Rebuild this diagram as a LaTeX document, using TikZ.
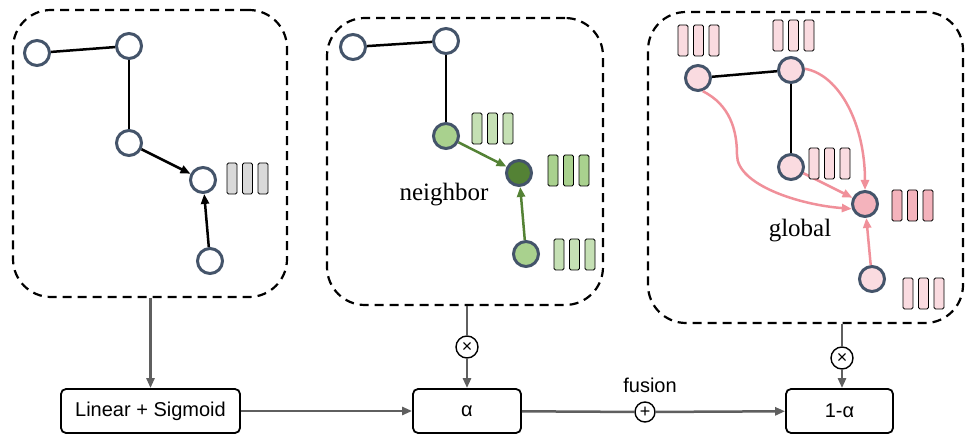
\documentclass[tikz,border=0pt]{standalone}
\usepackage{fontspec}
\setmainfont{Liberation Serif}
\setsansfont{Liberation Sans}
\usetikzlibrary{arrows.meta}
\definecolor{nodeline}{HTML}{44546A}
\definecolor{grayfill}{HTML}{D9D9D9}
\definecolor{lgreen}{HTML}{A9D18E}
\definecolor{llgreen}{HTML}{C5E0B4}
\definecolor{dgreen}{HTML}{548235}
\definecolor{lpink}{HTML}{FADBE0}
\definecolor{mpink}{HTML}{F4B3BC}
\definecolor{pinkline}{HTML}{F0909A}
\definecolor{flowgray}{HTML}{5F5F5F}
\newcommand\featbars[3]{%
  \foreach \k in {0,1,2} {\draw[featbar, fill=#3] ({#1+\k*15.5},#2) rectangle ++(10,31);}}
\begin{document}
\begin{tikzpicture}[x=1pt,y=-1pt,
  gnode/.style={circle, draw=nodeline, line width=3pt, minimum size=25pt, inner sep=0pt, fill=white},
  panel/.style={draw=black, line width=2.2pt, dash pattern=on 9pt off 6pt, rounded corners=38pt, inner sep=0pt},
  featbar/.style={draw=black, line width=0.9pt, rounded corners=1.5pt},
  plainedge/.style={draw=black, line width=2.5pt},
  blkarrow/.style={draw=black, line width=2.5pt, -{Triangle[length=10pt,width=8pt]}},
  grnarrow/.style={draw=dgreen, line width=2.5pt, -{Triangle[length=10pt,width=8pt]}},
  pnkarrow/.style={draw=pinkline, line width=2.5pt, -{Triangle[length=10pt,width=8pt]}},
  flowbox/.style={draw=black, line width=1.8pt, rounded corners=5pt, font=\sffamily\fontsize{20}{24}\selectfont, minimum height=44pt, inner sep=0pt},
  flowline/.style={draw=flowgray, line width=2.5pt},
  flowarrow/.style={draw=flowgray, line width=2.5pt, -{Triangle[length=10pt,width=8pt]}},
  opcirc/.style={circle, draw=black, line width=1.4pt, fill=white, inner sep=0pt, font=\sffamily\fontsize{18}{18}\selectfont},
  lbl/.style={font=\fontsize{25}{30}\selectfont}
]
\useasboundingbox (0,0) rectangle (966,438);

% panels
\node[panel, minimum width=274pt, minimum height=287pt] (p1) at (150,153.5) {};
\node[panel, minimum width=276pt, minimum height=287pt] (p2) at (465,161.5) {};
\node[panel, minimum width=315pt, minimum height=311pt] (p3) at (805.5,167.5) {};

% panel 1
\node[gnode] (a1) at (37,53) {};
\node[gnode] (b1) at (129,46) {};
\node[gnode] (c1) at (129,143) {};
\node[gnode] (d1) at (203,180) {};
\node[gnode] (e1) at (210,261) {};
\draw[plainedge] (a1) -- (b1);
\draw[plainedge] (b1) -- (c1);
\draw[blkarrow] (c1) -- (d1);
\draw[blkarrow] (e1) -- (d1);
\featbars{227}{163}{grayfill}

% panel 2
\node[gnode] (a2) at (353,47) {};
\node[gnode] (b2) at (446,41) {};
\node[gnode, fill=lgreen] (c2) at (446,136) {};
\node[gnode, fill=dgreen] (d2) at (519,173) {};
\node[gnode, fill=lgreen] (e2) at (526,254) {};
\draw[plainedge] (a2) -- (b2);
\draw[plainedge] (b2) -- (c2);
\draw[grnarrow] (c2) -- (d2);
\draw[grnarrow] (e2) -- (d2);
\featbars{472}{113}{llgreen}
\featbars{548}{155}{lgreen}
\featbars{554}{239}{llgreen}
\node[lbl] (nb) at (444,195) {neighbor};

% panel 3
\node[gnode, fill=lpink] (a3) at (698,78) {};
\node[gnode, fill=lpink] (b3) at (791,70) {};
\node[gnode, fill=lpink] (c3) at (791,167) {};
\node[gnode, fill=mpink] (d3) at (865,204) {};
\node[gnode, fill=lpink] (e3) at (872,279) {};
\draw[plainedge] (a3) -- (b3);
\draw[plainedge] (b3) -- (c3);
\draw[pnkarrow] (c3) -- (d3);
\draw[pnkarrow] (e3) -- (d3);
\draw[pnkarrow] (a3.-70) .. controls (730,105) and (737,130) .. (737,155)
   .. controls (737,185) and (800,205) .. (d3.200);
\draw[pnkarrow] (b3.5) .. controls (840,75) and (865,125) .. (d3.north);
\featbars{678}{25}{lpink}
\featbars{773}{20}{lpink}
\featbars{809}{148}{lpink}
\featbars{892}{190}{mpink}
\featbars{903}{278}{lpink}
\node[lbl] (gl) at (800,231) {global};

% bottom flow
\node[flowbox, minimum width=179pt] (lin) at (150.5,411) {Linear + Sigmoid};
\node[flowbox, minimum width=108pt] (alpha) at (467,411) {α};
\node[flowbox, minimum width=107pt] (oma) at (839.5,411) {1-α};
\node[opcirc, minimum size=22pt] (m1) at (467,347) {×};
\node[opcirc, minimum size=22pt] (m2) at (842,358) {×};
\node[opcirc, minimum size=20pt] (pl) at (645,412) {+};
\node[font=\sffamily\fontsize{20}{24}\selectfont] (fu) at (650,385) {fusion};

\draw[flowarrow] (lin.north |- p1.south) -- (lin.north);
\draw[flowline] (m1 |- p2.south) -- (m1);
\draw[flowarrow] (m1) -- (alpha.north);
\draw[flowline] (m2 |- p3.south) -- (m2);
\draw[flowarrow] (m2) -- (m2 |- oma.north);
\draw[flowarrow] (lin) -- (alpha);
\draw[flowline] (alpha) -- (pl);
\draw[flowarrow] (pl) -- (oma);
\end{tikzpicture}
\end{document}
